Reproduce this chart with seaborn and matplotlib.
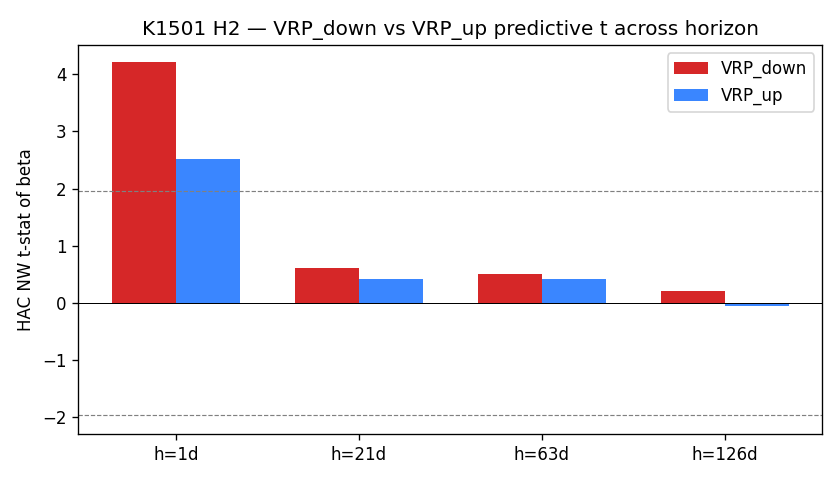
import matplotlib
matplotlib.use("Agg")
import matplotlib.pyplot as plt
import seaborn as sns
import pandas as pd

horizons = ["h=1d", "h=21d", "h=63d", "h=126d"]
vrp_down = [4.21, 0.61, 0.51, 0.21]
vrp_up = [2.52, 0.42, 0.42, -0.05]

df = pd.DataFrame({
    "horizon": horizons * 2,
    "t": vrp_down + vrp_up,
    "series": ["VRP_down"] * len(horizons) + ["VRP_up"] * len(horizons),
})

fig, ax = plt.subplots(figsize=(7, 4), dpi=120)
sns.barplot(data=df, x="horizon", y="t", hue="series", order=horizons,
            hue_order=["VRP_down", "VRP_up"],
            palette={"VRP_down": "#d62728", "VRP_up": "#3a86ff"},
            width=0.7, saturation=1, ax=ax, errorbar=None)
ax.axhline(0, color="black", linewidth=0.6)
ax.axhline(1.96, color="gray", linestyle="--", linewidth=0.7)
ax.axhline(-1.96, color="gray", linestyle="--", linewidth=0.7)
ax.set_xlim(-0.535, 3.535)
ax.set_ylim(-2.29, 4.51)
ax.set_xlabel("")
ax.set_ylabel("HAC NW t-stat of beta")
ax.set_title("K1501 H2 — VRP_down vs VRP_up predictive t across horizon")
ax.legend(title=None, loc="upper right")
fig.subplots_adjust(left=0.093, right=0.979, top=0.906, bottom=0.096)
fig.savefig("out.png", dpi=120)
